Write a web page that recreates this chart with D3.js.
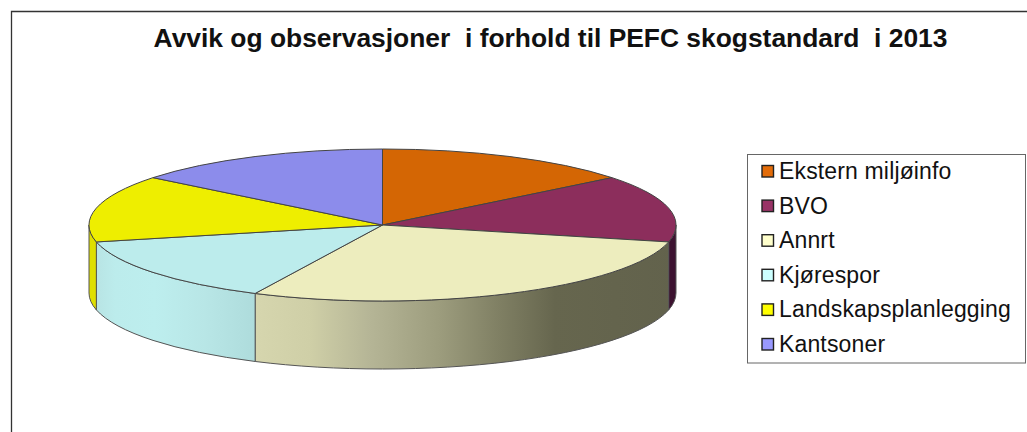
<!DOCTYPE html>
<html>
<head>
<meta charset="utf-8">
<script src="https://d3js.org/d3.v7.min.js"></script>
<style>
  html, body { margin: 0; padding: 0; background: #fff; overflow: hidden; }
  svg { display: block; font-family: "Liberation Sans", Arial, sans-serif; }
</style>
</head>
<body>
<div id="chart"></div>
<script>
const titleText = "Avvik og observasjoner  i forhold til PEFC skogstandard  i 2013";
const categories = ["Ekstern miljøinfo", "BVO", "Annrt", "Kjørespor", "Landskapsplanlegging", "Kantsoner"];
const values = [1, 1, 2, 1, 1, 1];
const topColors = ["#d46604", "#8c2e5c", "#ededbe", "#bcecec", "#eeee00", "#8c8ceb"];
const legendColors = ["#e36c09", "#993366", "#ffffcc", "#ccffff", "#ffff00", "#9999ff"];
const sideColors = [null, "#3c1230", "url(#sideAnnrt)", "url(#sideKjore)", "#dfdf00", null];

const width = 1027, height = 432;
const cx = 382.5, cy = 225, rx = 293.5, ry = 76, depth = 68;

const svg = d3.select("#chart").append("svg")
    .attr("width", width)
    .attr("height", height);

// frame, only top and left are visible in the crop
svg.append("path")
    .attr("d", `M11.5,${height} V11.5 H${width}`)
    .attr("fill", "none")
    .attr("stroke", "#333")
    .attr("stroke-width", 1.3);

svg.append("text")
    .attr("x", 550.5)
    .attr("y", 46.5)
    .attr("text-anchor", "middle")
    .attr("font-size", 26.4)
    .attr("font-weight", "bold")
    .attr("fill", "#111")
    .style("white-space", "pre")
    .text(titleText);

// gradients on the side wall
const defs = svg.append("defs");
function gradient(id, stops) {
    const g = defs.append("linearGradient")
        .attr("id", id)
        .attr("gradientUnits", "userSpaceOnUse")
        .attr("x1", 89).attr("x2", 676).attr("y1", 0).attr("y2", 0);
    stops.forEach(s => g.append("stop")
        .attr("offset", (s[0] - 89) / 587)
        .attr("stop-color", s[1]));
}
gradient("sideAnnrt", [[255, "#d6d6ae"], [310, "#cfcfa7"], [370, "#b5b596"], [440, "#9c9c7d"], [500, "#7f7f63"], [555, "#66664e"], [676, "#62624c"]]);
gradient("sideKjore", [[96, "#b8e4e4"], [115, "#bcecec"], [155, "#bdeeee"], [205, "#b8e6e6"], [255, "#aedcdc"]]);

// angle 0 is straight up, clockwise
const pie = d3.pie().sort(null).value(d => d);
const slices = pie(values);

const px = d3.scaleLinear().domain([-1, 1]).range([cx - rx, cx + rx]);
const py = d3.scaleLinear().domain([-1, 1]).range([cy - ry, cy + ry]);

// side wall for the front half only
function wall(a0, a1) {
    const s = Math.max(a0, Math.PI / 2), e = Math.min(a1, Math.PI * 1.5);
    if (e <= s) return null;
    const x0 = px(Math.sin(s)), y0 = py(-Math.cos(s));
    const x1 = px(Math.sin(e)), y1 = py(-Math.cos(e));
    return `M${x0},${y0} A${rx},${ry} 0 0 1 ${x1},${y1} L${x1},${y1 + depth} A${rx},${ry} 0 0 0 ${x0},${y0 + depth} Z`;
}

svg.append("g").selectAll("path")
    .data(slices.filter(d => wall(d.startAngle, d.endAngle)))
    .join("path")
    .attr("d", d => wall(d.startAngle, d.endAngle))
    .attr("fill", d => sideColors[d.index])
    .attr("stroke", "#555")
    .attr("stroke-width", 1);

// top face: unit arc squashed into the ellipse
const arc = d3.arc().innerRadius(0).outerRadius(1);
svg.append("g")
    .attr("transform", `translate(${cx},${cy}) scale(${rx},${ry})`)
    .selectAll("path")
    .data(slices)
    .join("path")
    .attr("d", arc)
    .attr("fill", d => topColors[d.index])
    .attr("stroke", "#444")
    .attr("stroke-width", 1)
    .attr("vector-effect", "non-scaling-stroke");

// legend
svg.append("rect")
    .attr("x", 747.5).attr("y", 154.5)
    .attr("width", 278).attr("height", 208.5)
    .attr("fill", "#fff")
    .attr("stroke", "#666")
    .attr("stroke-width", 1);

const ly = d3.scalePoint().domain(categories).range([171.5, 344.5]);
const item = svg.append("g").selectAll("g")
    .data(categories)
    .join("g")
    .attr("transform", d => `translate(0,${ly(d)})`);

item.append("rect")
    .attr("x", 762).attr("y", -6)
    .attr("width", 11.5).attr("height", 11.5)
    .attr("fill", (d, i) => legendColors[i])
    .attr("stroke", "#222")
    .attr("stroke-width", 1.4);

item.append("text")
    .attr("x", 779)
    .attr("y", 7.5)
    .attr("font-size", 23)
    .attr("letter-spacing", 0.15)
    .attr("fill", "#111")
    .text(d => d);
</script>
</body>
</html>
